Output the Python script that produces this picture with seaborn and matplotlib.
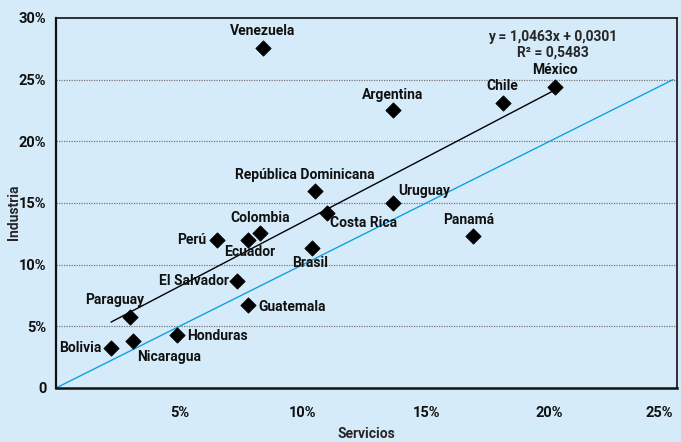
import numpy as np
import pandas as pd
import seaborn as sns
import matplotlib.pyplot as plt
from matplotlib.ticker import FuncFormatter

# Data (shares, as fractions)
paises = ['Venezuela', 'Argentina', 'Chile', 'México', 'República Dominicana',
          'Uruguay', 'Costa Rica', 'Panamá', 'Colombia', 'Ecuador', 'Perú',
          'Brasil', 'El Salvador', 'Guatemala', 'Paraguay', 'Honduras',
          'Nicaragua', 'Bolivia']
servicios = [0.0839, 0.1365, 0.1810, 0.2020, 0.1050, 0.1365, 0.1100, 0.1690,
             0.0827, 0.0778, 0.0652, 0.1037, 0.0733, 0.0778, 0.0300, 0.0490,
             0.0312, 0.0223]
industria = [0.2757, 0.2250, 0.2310, 0.2440, 0.1600, 0.1500, 0.1420, 0.1230,
             0.1257, 0.1200, 0.1200, 0.1135, 0.0870, 0.0673, 0.0576, 0.0430,
             0.0381, 0.0324]
pendiente = 1.0463
intercepto = 0.0301
r2 = 0.5483

# label offsets in pixels (dx, dy, ha)
offsets = {
    'Venezuela': (0, 17, 'center'), 'Argentina': (0, 15, 'center'),
    'Chile': (0, 17, 'center'), 'México': (0, 17, 'center'),
    'República Dominicana': (-10, 16, 'center'), 'Uruguay': (5, 12, 'left'),
    'Costa Rica': (3, -10, 'left'), 'Panamá': (-4, 16, 'center'),
    'Colombia': (0, 15, 'center'), 'Ecuador': (2, -12, 'center'),
    'Perú': (-11, 0, 'right'), 'Brasil': (-2, -15, 'center'),
    'El Salvador': (-8, 0, 'right'), 'Guatemala': (10, -2, 'left'),
    'Paraguay': (-15, 17, 'center'), 'Honduras': (10, -1, 'left'),
    'Nicaragua': (4, -16, 'left'), 'Bolivia': (-10, 0, 'right'),
}

df = pd.DataFrame({'pais': paises, 'Servicios': servicios, 'Industria': industria})

bg = '#d5ebfa'
sns.set_style('white')
plt.rcParams['font.family'] = ['Roboto', 'DejaVu Sans']
plt.rcParams['font.weight'] = 'bold'

fig = plt.figure(figsize=(6.81, 4.42), dpi=100, facecolor=bg)
ax = fig.add_axes([0.0822, 0.1222, 0.9119, 0.8371])
ax.set_facecolor(bg)

# 45 degree line
ax.plot([0, 0.25], [0, 0.25], color='#12a0e0', lw=1, zorder=2)

# trend line over the data range
xs = np.array([min(servicios), max(servicios)])
ax.plot(xs, pendiente * xs + intercepto, color='black', lw=1, zorder=2)

sns.scatterplot(data=df, x='Servicios', y='Industria', marker='D', s=60,
                color='black', edgecolor='black', ax=ax, zorder=3)

for p, x, y in zip(paises, servicios, industria):
    dx, dy, ha = offsets[p]
    ax.annotate(p, (x, y), xytext=(dx, dy), textcoords='offset pixels',
                ha=ha, va='center', fontsize=10, fontweight='bold', color='#111111')

ax.text(0.80, 0.927, f'y = {pendiente:.4f}x + {intercepto:.4f}'.replace('.', ',')
        + '\n' + f'R² = {r2:.4f}'.replace('.', ','),
        transform=ax.transAxes, ha='center', va='center', fontsize=10,
        fontweight='bold', linespacing=1.15)

ax.set_xlim(0, 0.2516)
ax.set_ylim(0, 0.30)
ax.set_xticks([0.05, 0.10, 0.15, 0.20, 0.25])
ax.set_yticks([0, 0.05, 0.10, 0.15, 0.20, 0.25, 0.30])
pct = FuncFormatter(lambda v, _: '0' if v == 0 else f'{v * 100:.0f}%')
ax.xaxis.set_major_formatter(pct)
ax.yaxis.set_major_formatter(pct)
ax.tick_params(length=0, labelsize=10.5, colors='#111111')
ax.tick_params(axis='x', pad=13)
ax.tick_params(axis='y', pad=7)
ax.get_xticklabels()[-1].set_horizontalalignment('right')
for lab in ax.get_xticklabels()[-1:]:
    lab.set_ha('right')

for v in [0.05, 0.10, 0.15, 0.20, 0.25]:
    ax.axhline(v, color='#777777', lw=0.9, ls=(0, (1, 1)), zorder=1)

for s in ax.spines.values():
    s.set_color('#111111')
    s.set_linewidth(1.2)
ax.spines['left'].set_linewidth(1.6)
ax.spines['bottom'].set_linewidth(1.8)

ax.set_xlabel('')
ax.set_ylabel('')
fig.text(366 / 681, 1 - 434 / 442, 'Servicios', ha='center', va='center',
         fontsize=10, fontweight='bold')
fig.text(14 / 681, 1 - 212 / 442, 'Industria', ha='center', va='center',
         rotation=90, fontsize=10, fontweight='bold')

fig.savefig('out.png', dpi=100, facecolor=bg)
